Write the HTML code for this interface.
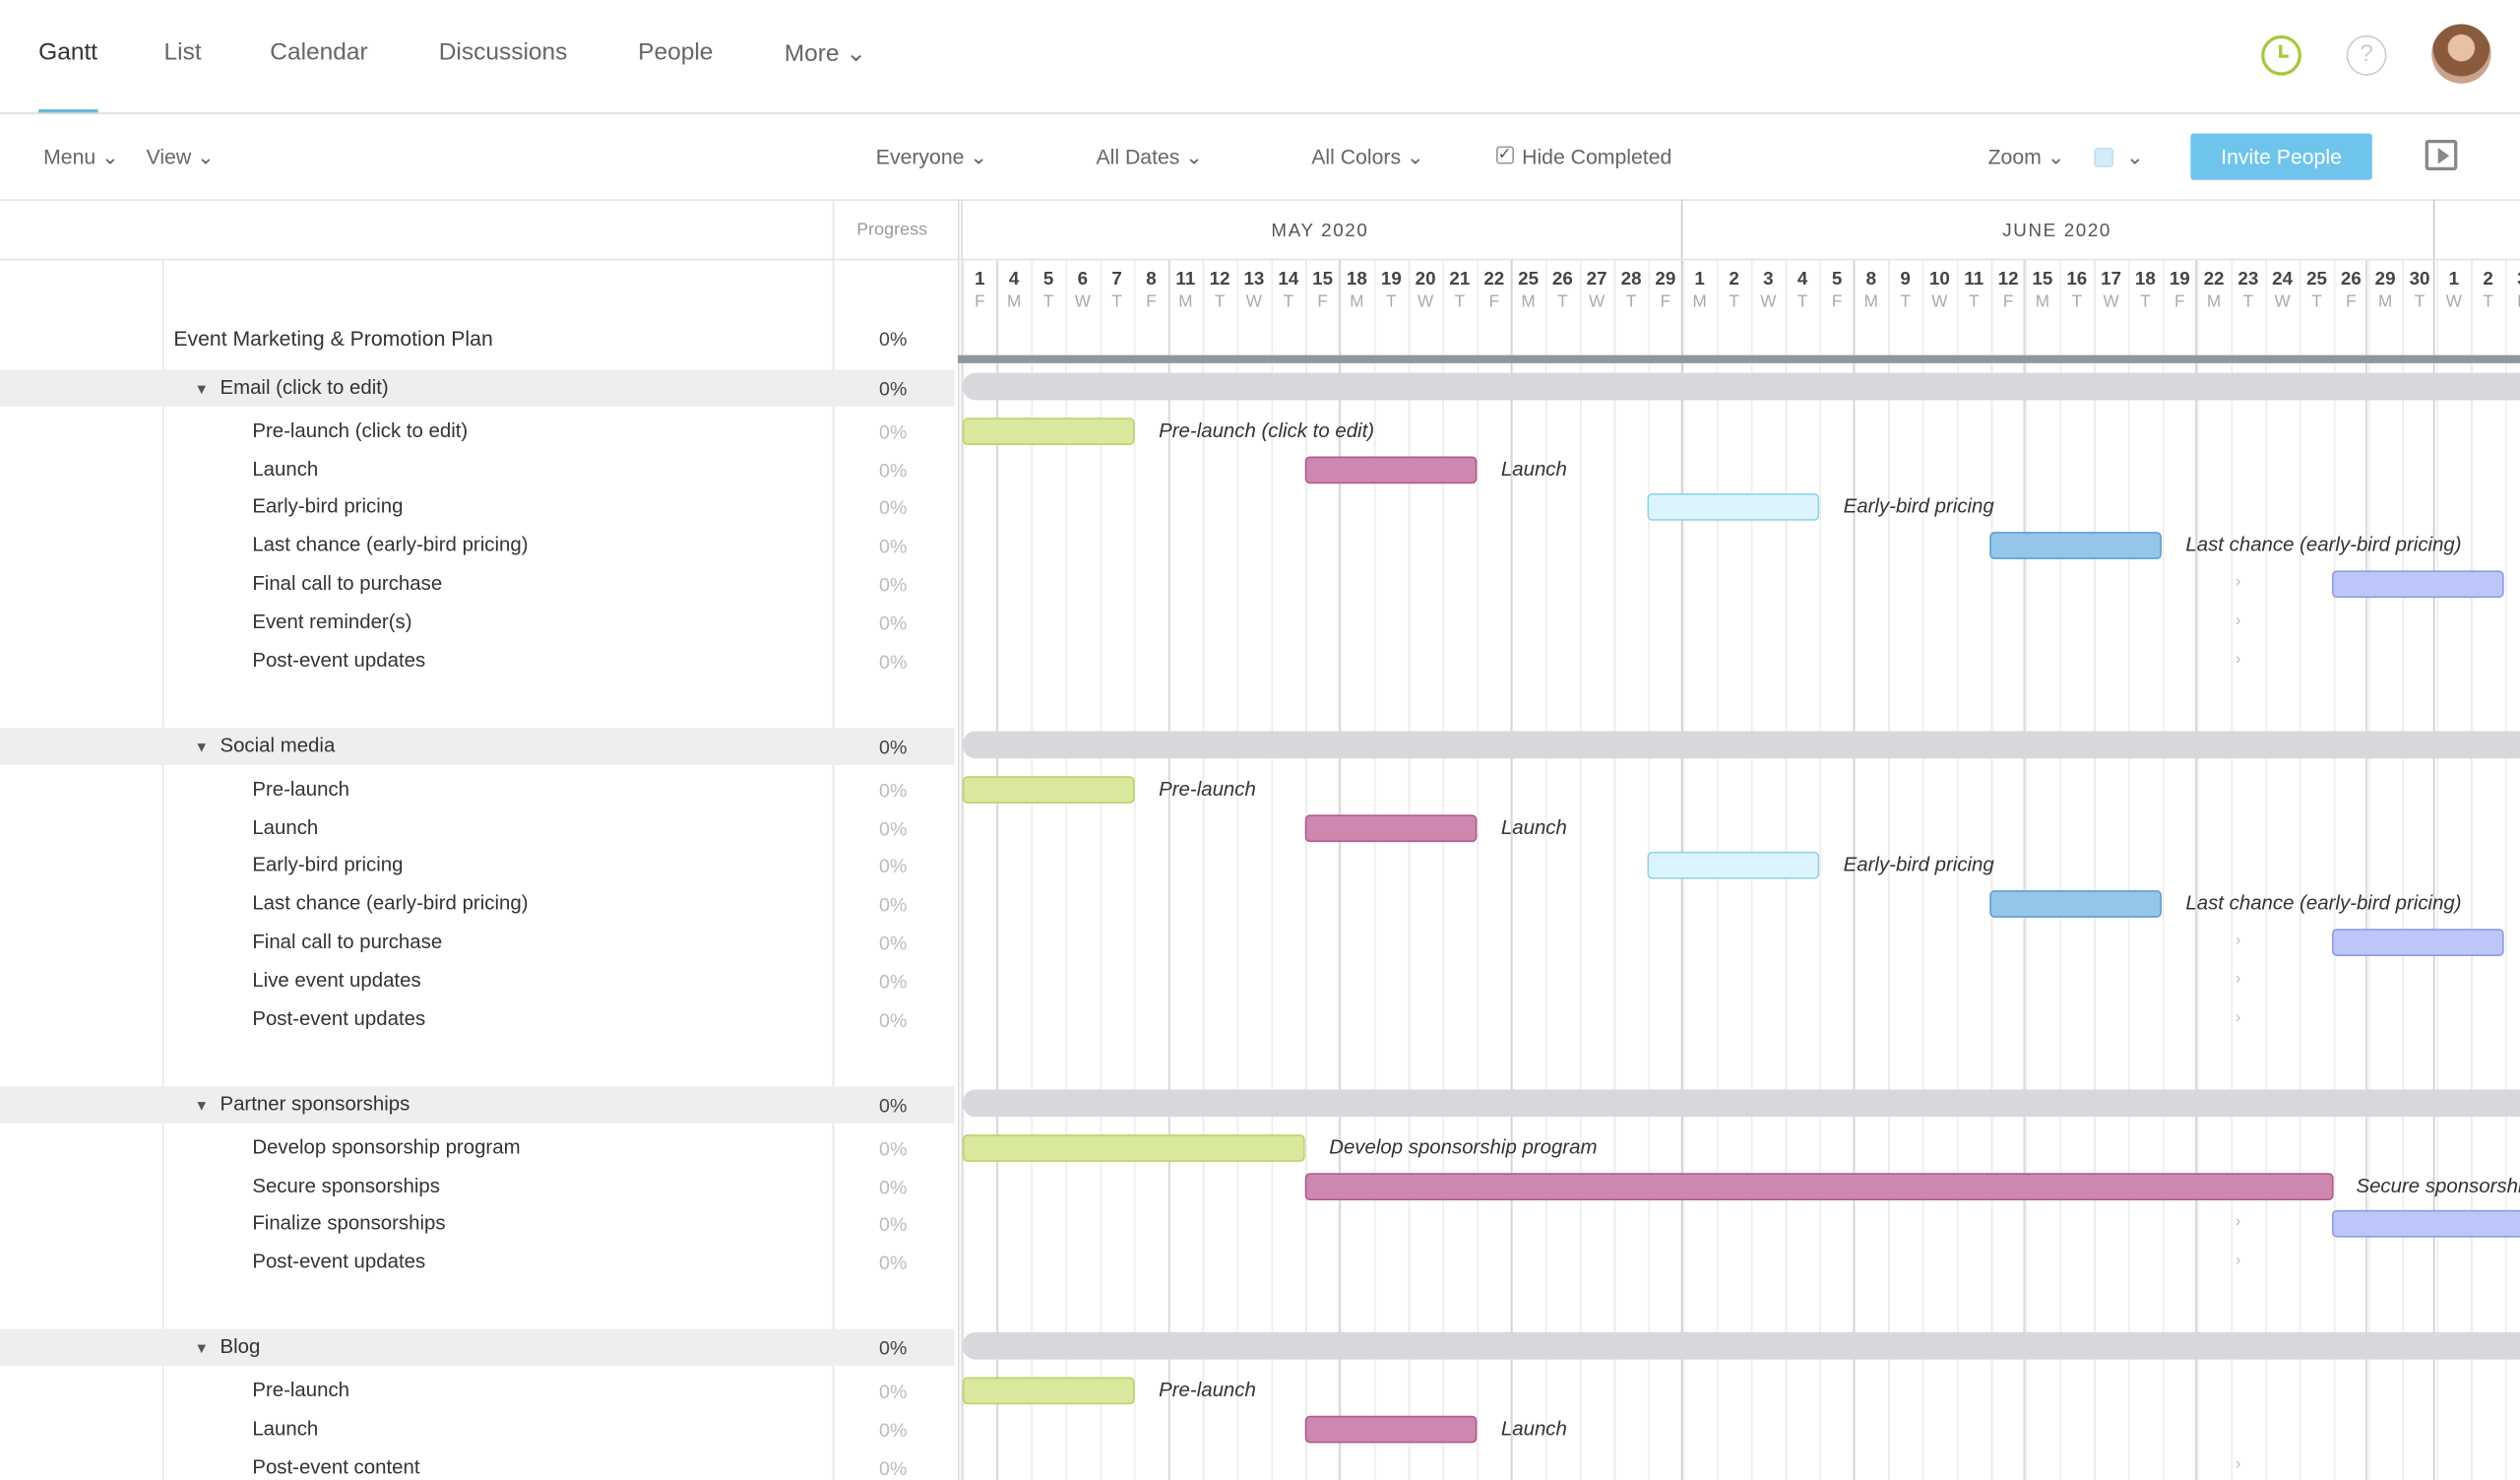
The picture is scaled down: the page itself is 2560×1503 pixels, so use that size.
<!DOCTYPE html>
<html><head><meta charset="utf-8">
<style>
*{margin:0;padding:0;box-sizing:border-box}
html,body{width:2560px;height:1503px;overflow:hidden;background:#fff}
#w{position:absolute;left:0;top:0;width:1568px;height:921px;transform:scale(1.63265,1.63192);transform-origin:0 0;font-family:"Liberation Sans",sans-serif;color:#333;overflow:hidden}
.a{position:absolute;white-space:nowrap}
.nav{top:24px;font-size:15px;color:#666}
.tb{top:90px;font-size:13px;color:#666}
.t{font-size:12.5px;color:#333;left:157px}
.p{font-size:12px;color:#bbb;left:547px}
.grp{position:absolute;left:0;width:594px;height:23px;background:#eeeeef}
.gb{position:absolute;left:599px;width:980px;height:17px;background:#d6d8dc;border-radius:8px 0 0 8px}
.bar{position:absolute;height:17px;border-radius:3px;border:1px solid}
.g{background:#d9e89c;border-color:#bcd26c}
.k{background:#cc88ae;border-color:#b45a8d}
.c{background:#dcf5fc;border-color:#93d3ea}
.b{background:#94c6ea;border-color:#5d9fd2}
.l{background:#bcc6f8;border-color:#8d9be6}
.lb{font-size:12.5px;font-style:italic;color:#333}
.d{position:absolute;top:168px;width:21.33px;text-align:center;font-size:11.5px;font-weight:bold;color:#444}
.d span{display:block;font-weight:normal;color:#aaa;font-size:10.5px;margin-top:2px}
.chev{font-size:10px;color:#bbb;left:1391px}
.wl{position:absolute;top:162px;width:1px;height:760px;background:#d4d4d4}
</style></head><body><div id="w">
<!-- nav -->
<div class="a nav" style="left:24px;color:#333">Gantt</div>
<div class="a nav" style="left:102px">List</div>
<div class="a nav" style="left:168px">Calendar</div>
<div class="a nav" style="left:273px">Discussions</div>
<div class="a nav" style="left:397px">People</div>
<div class="a nav" style="left:488px">More ⌄</div>
<div class="a" style="left:24px;top:68px;width:37px;height:3px;background:#6cb9d7"></div>
<div class="a" style="left:0;top:70px;width:1568px;height:1px;background:#ddd"></div>
<div class="a" style="left:1407px;top:22px;width:25px;height:25px;border:2px solid #a6c93c;border-radius:50%"></div>
<div class="a" style="left:1418px;top:28px;width:2px;height:8px;background:#a6c93c"></div>
<div class="a" style="left:1418px;top:34px;width:6px;height:2px;background:#a6c93c"></div>
<div class="a" style="left:1460px;top:22px;width:25px;height:25px;border:1.5px solid #ccc;border-radius:50%;text-align:center;font-size:15px;color:#ccc;line-height:22px">?</div>
<div class="a" style="left:1513px;top:15px;width:37px;height:37px;border-radius:50%;background:radial-gradient(circle at 50% 40%,#e8c0a4 0 28%,#8a5a3c 30% 60%,#c9a38c 62%)"></div>
<!-- toolbar -->
<div class="a tb" style="left:27px">Menu ⌄</div>
<div class="a tb" style="left:91px">View ⌄</div>
<div class="a tb" style="left:545px">Everyone ⌄</div>
<div class="a tb" style="left:682px">All Dates ⌄</div>
<div class="a tb" style="left:816px">All Colors ⌄</div>
<div class="a" style="left:931px;top:91px;width:11px;height:11px;border:1px solid #999;border-radius:2px;font-size:10px;line-height:9px;color:#555">✓</div>
<div class="a tb" style="left:947px">Hide Completed</div>
<div class="a tb" style="left:1237px">Zoom ⌄</div>
<div class="a" style="left:1303px;top:92px;width:12px;height:12px;background:#d4ecf8;border:1px solid #bcdff0;border-radius:2px"></div>
<div class="a tb" style="left:1323px">⌄</div>
<div class="a" style="left:1363px;top:83px;width:113px;height:29px;background:#6fc4eb;border-radius:2px;color:#fff;font-size:13px;text-align:center;line-height:29px">Invite People</div>
<div class="a" style="left:1509px;top:87px;width:20px;height:19px;border:2px solid #888;border-radius:2px"></div>
<div class="a" style="left:1517px;top:92px;width:0;height:0;border-left:7px solid #888;border-top:5px solid transparent;border-bottom:5px solid transparent"></div>
<div class="a" style="left:0;top:124px;width:1568px;height:1px;background:#e4e4e4"></div>
<!-- grid -->
<div class="a" style="left:599px;top:162px;width:969px;height:760px;background:repeating-linear-gradient(90deg,#ececec 0 1px,transparent 1px 21.33px)"></div>
<div class="wl" style="left:620px"></div>
<div class="wl" style="left:727px"></div>
<div class="wl" style="left:833px"></div>
<div class="wl" style="left:940px"></div>
<div class="wl" style="left:1153px"></div>
<div class="wl" style="left:1259px"></div>
<div class="wl" style="left:1366px"></div>
<div class="wl" style="left:1472px"></div>
<div class="a" style="left:1046px;top:124px;width:1px;height:800px;background:#ccc"></div>
<div class="a" style="left:1514px;top:124px;width:1px;height:800px;background:#ccc"></div>
<div class="a" style="left:518px;top:124px;width:1px;height:800px;background:#e4e4e4"></div>
<div class="a" style="left:596px;top:124px;width:1px;height:800px;background:#ddd"></div>
<div class="a" style="left:598px;top:124px;width:1px;height:800px;background:#ddd"></div>
<div class="a" style="left:101px;top:162px;width:1px;height:760px;background:#e8e8e8"></div>
<div class="a" style="left:0;top:161px;width:1568px;height:1px;background:#e4e4e4"></div>
<div class="a" style="left:533px;top:137px;font-size:11px;color:#999">Progress</div>
<div class="a" style="left:791px;top:138px;font-size:11.5px;color:#555;letter-spacing:1px">MAY 2020</div>
<div class="a" style="left:1246px;top:138px;font-size:11.5px;color:#555;letter-spacing:1px">JUNE 2020</div>
<!-- days -->
<div class="d" style="left:599.0px">1<span>F</span></div><div class="d" style="left:620.3px">4<span>M</span></div><div class="d" style="left:641.7px">5<span>T</span></div><div class="d" style="left:663.0px">6<span>W</span></div><div class="d" style="left:684.3px">7<span>T</span></div><div class="d" style="left:705.7px">8<span>F</span></div><div class="d" style="left:727.0px">11<span>M</span></div><div class="d" style="left:748.3px">12<span>T</span></div><div class="d" style="left:769.6px">13<span>W</span></div><div class="d" style="left:791.0px">14<span>T</span></div><div class="d" style="left:812.3px">15<span>F</span></div><div class="d" style="left:833.6px">18<span>M</span></div><div class="d" style="left:855.0px">19<span>T</span></div><div class="d" style="left:876.3px">20<span>W</span></div><div class="d" style="left:897.6px">21<span>T</span></div><div class="d" style="left:919.0px">22<span>F</span></div><div class="d" style="left:940.3px">25<span>M</span></div><div class="d" style="left:961.6px">26<span>T</span></div><div class="d" style="left:982.9px">27<span>W</span></div><div class="d" style="left:1004.3px">28<span>T</span></div><div class="d" style="left:1025.6px">29<span>F</span></div><div class="d" style="left:1046.9px">1<span>M</span></div><div class="d" style="left:1068.3px">2<span>T</span></div><div class="d" style="left:1089.6px">3<span>W</span></div><div class="d" style="left:1110.9px">4<span>T</span></div><div class="d" style="left:1132.3px">5<span>F</span></div><div class="d" style="left:1153.6px">8<span>M</span></div><div class="d" style="left:1174.9px">9<span>T</span></div><div class="d" style="left:1196.2px">10<span>W</span></div><div class="d" style="left:1217.6px">11<span>T</span></div><div class="d" style="left:1238.9px">12<span>F</span></div><div class="d" style="left:1260.2px">15<span>M</span></div><div class="d" style="left:1281.6px">16<span>T</span></div><div class="d" style="left:1302.9px">17<span>W</span></div><div class="d" style="left:1324.2px">18<span>T</span></div><div class="d" style="left:1345.6px">19<span>F</span></div><div class="d" style="left:1366.9px">22<span>M</span></div><div class="d" style="left:1388.2px">23<span>T</span></div><div class="d" style="left:1409.5px">24<span>W</span></div><div class="d" style="left:1430.9px">25<span>T</span></div><div class="d" style="left:1452.2px">26<span>F</span></div><div class="d" style="left:1473.5px">29<span>M</span></div><div class="d" style="left:1494.9px">30<span>T</span></div><div class="d" style="left:1516.2px">1<span>W</span></div><div class="d" style="left:1537.5px">2<span>T</span></div><div class="d" style="left:1558.8px">3<span>F</span></div>
<!-- project -->
<div class="a" style="left:596px;top:221px;width:972px;height:5px;background:#8f969f"></div>
<div class="a" style="left:108px;top:203px;font-size:13px;color:#333">Event Marketing &amp; Promotion Plan</div>
<div class="a" style="left:547px;top:204px;font-size:12px;color:#444">0%</div>
<!-- groups -->
<div class="grp" style="top:230px"></div><div class="gb" style="top:232px"></div>
<div class="grp" style="top:453px"></div><div class="gb" style="top:455px"></div>
<div class="grp" style="top:676px"></div><div class="gb" style="top:678px"></div>
<div class="grp" style="top:827px"></div><div class="gb" style="top:829px"></div>
<div class="a" style="left:121px;top:234px;font-size:12.5px;color:#333"><span style="font-size:9px;color:#555">▼</span>&nbsp; Email (click to edit)</div>
<div class="a" style="left:121px;top:457px;font-size:12.5px;color:#333"><span style="font-size:9px;color:#555">▼</span>&nbsp; Social media</div>
<div class="a" style="left:121px;top:680px;font-size:12.5px;color:#333"><span style="font-size:9px;color:#555">▼</span>&nbsp; Partner sponsorships</div>
<div class="a" style="left:121px;top:831px;font-size:12.5px;color:#333"><span style="font-size:9px;color:#555">▼</span>&nbsp; Blog</div>
<div class="a" style="left:547px;top:235px;font-size:12px;color:#444">0%</div>
<div class="a" style="left:547px;top:458px;font-size:12px;color:#444">0%</div>
<div class="a" style="left:547px;top:681px;font-size:12px;color:#444">0%</div>
<div class="a" style="left:547px;top:832px;font-size:12px;color:#444">0%</div>
<!-- email tasks -->
<div class="a t" style="top:261px">Pre-launch (click to edit)</div><div class="a p" style="top:262px">0%</div>
<div class="a t" style="top:285px">Launch</div><div class="a p" style="top:286px">0%</div>
<div class="a t" style="top:308px">Early-bird pricing</div><div class="a p" style="top:309px">0%</div>
<div class="a t" style="top:332px">Last chance (early-bird pricing)</div><div class="a p" style="top:333px">0%</div>
<div class="a t" style="top:356px">Final call to purchase</div><div class="a p" style="top:357px">0%</div>
<div class="a t" style="top:380px">Event reminder(s)</div><div class="a p" style="top:381px">0%</div>
<div class="a t" style="top:404px">Post-event updates</div><div class="a p" style="top:405px">0%</div>
<div class="bar g" style="left:599px;top:260px;width:107px"></div><div class="a lb" style="left:721px;top:261px">Pre-launch (click to edit)</div>
<div class="bar k" style="left:812px;top:284px;width:107px"></div><div class="a lb" style="left:934px;top:285px">Launch</div>
<div class="bar c" style="left:1025px;top:307px;width:107px"></div><div class="a lb" style="left:1147px;top:308px">Early-bird pricing</div>
<div class="bar b" style="left:1238px;top:331px;width:107px"></div><div class="a lb" style="left:1360px;top:332px">Last chance (early-bird pricing)</div>
<div class="bar l" style="left:1451px;top:355px;width:107px"></div>
<div class="a chev" style="top:357px">›</div><div class="a chev" style="top:381px">›</div><div class="a chev" style="top:405px">›</div>
<!-- social -->
<div class="a t" style="top:484px">Pre-launch</div><div class="a p" style="top:485px">0%</div>
<div class="a t" style="top:508px">Launch</div><div class="a p" style="top:509px">0%</div>
<div class="a t" style="top:531px">Early-bird pricing</div><div class="a p" style="top:532px">0%</div>
<div class="a t" style="top:555px">Last chance (early-bird pricing)</div><div class="a p" style="top:556px">0%</div>
<div class="a t" style="top:579px">Final call to purchase</div><div class="a p" style="top:580px">0%</div>
<div class="a t" style="top:603px">Live event updates</div><div class="a p" style="top:604px">0%</div>
<div class="a t" style="top:627px">Post-event updates</div><div class="a p" style="top:628px">0%</div>
<div class="bar g" style="left:599px;top:483px;width:107px"></div><div class="a lb" style="left:721px;top:484px">Pre-launch</div>
<div class="bar k" style="left:812px;top:507px;width:107px"></div><div class="a lb" style="left:934px;top:508px">Launch</div>
<div class="bar c" style="left:1025px;top:530px;width:107px"></div><div class="a lb" style="left:1147px;top:531px">Early-bird pricing</div>
<div class="bar b" style="left:1238px;top:554px;width:107px"></div><div class="a lb" style="left:1360px;top:555px">Last chance (early-bird pricing)</div>
<div class="bar l" style="left:1451px;top:578px;width:107px"></div>
<div class="a chev" style="top:580px">›</div><div class="a chev" style="top:604px">›</div><div class="a chev" style="top:628px">›</div>
<!-- partner -->
<div class="a t" style="top:707px">Develop sponsorship program</div><div class="a p" style="top:708px">0%</div>
<div class="a t" style="top:731px">Secure sponsorships</div><div class="a p" style="top:732px">0%</div>
<div class="a t" style="top:754px">Finalize sponsorships</div><div class="a p" style="top:755px">0%</div>
<div class="a t" style="top:778px">Post-event updates</div><div class="a p" style="top:779px">0%</div>
<div class="bar g" style="left:599px;top:706px;width:213px"></div><div class="a lb" style="left:827px;top:707px">Develop sponsorship program</div>
<div class="bar k" style="left:812px;top:730px;width:640px"></div><div class="a lb" style="left:1466px;top:731px">Secure sponsorships</div>
<div class="bar l" style="left:1451px;top:753px;width:130px"></div>
<div class="a chev" style="top:755px">›</div><div class="a chev" style="top:779px">›</div>
<!-- blog -->
<div class="a t" style="top:858px">Pre-launch</div><div class="a p" style="top:859px">0%</div>
<div class="a t" style="top:882px">Launch</div><div class="a p" style="top:883px">0%</div>
<div class="a t" style="top:906px">Post-event content</div><div class="a p" style="top:907px">0%</div>
<div class="bar g" style="left:599px;top:857px;width:107px"></div><div class="a lb" style="left:721px;top:858px">Pre-launch</div>
<div class="bar k" style="left:812px;top:881px;width:107px"></div><div class="a lb" style="left:934px;top:882px">Launch</div>
<div class="a chev" style="top:906px">›</div>
</div></body></html>
